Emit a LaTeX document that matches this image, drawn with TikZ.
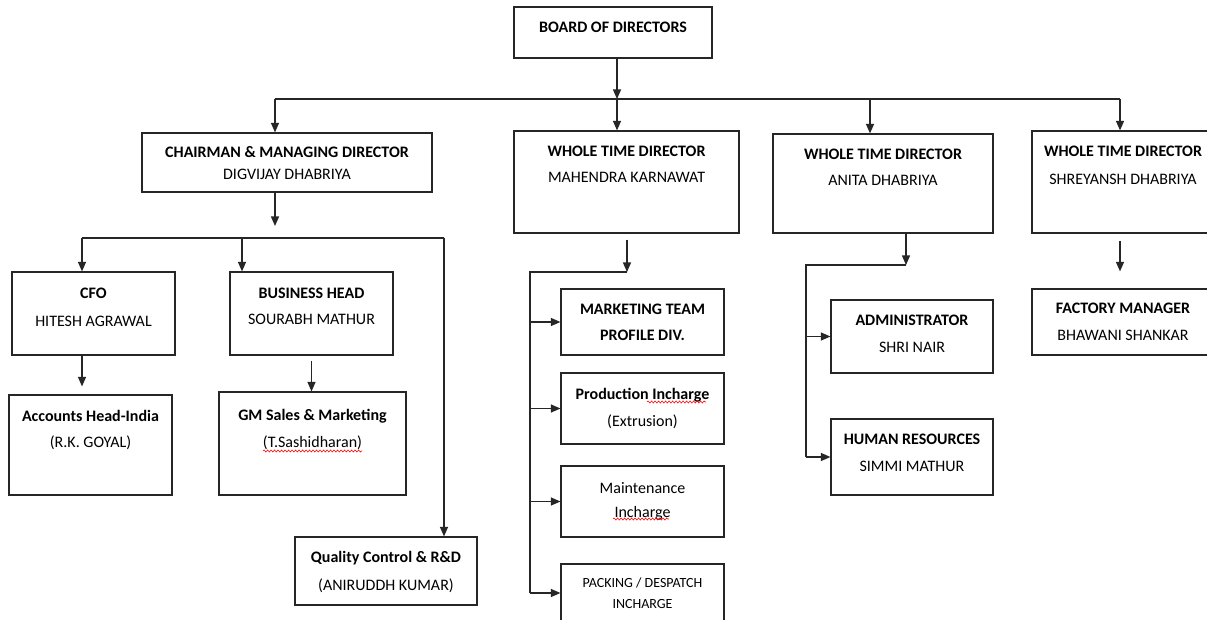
\documentclass[tikz,border=0pt]{standalone}
\usepackage{fontspec}
\setmainfont{Carlito}
\usetikzlibrary{arrows.meta,calc,decorations.pathmorphing}

% box by corners, text placed by baseline of its last line
\newcommand{\orgbox}[8][]{%
  \node[box, minimum width=#5-#3, minimum height=#6-#4] (#2) at ({(#3+#5)/2},{(#4+#6)/2}) {};
  \node[txt, anchor=base, #1] (#2-txt) at ({(#3+#5)/2},#7) {#8};
}

\begin{document}
\begin{tikzpicture}[x=1pt, y=-1pt,
    box/.style={draw=black!85, line width=1.2pt, rectangle, inner sep=0pt},
    txt/.style={align=center, inner sep=0pt, font=\fontsize{16}{26}\selectfont},
    ln/.style={draw=black!85, line width=1.2pt},
    arr/.style={draw=black!85, line width=1.2pt, -{Triangle[width=8pt,length=9.5pt]}},
    spell/.style={draw=red, line width=0.6pt, decorate, decoration={snake, segment length=3.5pt, amplitude=1pt}}]
        \fill[white] (0,0) rectangle (1207,620);
        \useasboundingbox (0,0) rectangle (1207,620);

        \orgbox{board}{514}{7}{712}{58}{33}{\textbf{BOARD OF DIRECTORS}}
        \orgbox[font=\fontsize{16}{22}\selectfont]{cmd}{142}{133}{432}{192}{180}{\textbf{CHAIRMAN \& MANAGING DIRECTOR}\\DIGVIJAY DHABRIYA}
        \orgbox{wtda}{514}{131}{739}{233}{183}{\textbf{WHOLE TIME DIRECTOR}\\MAHENDRA KARNAWAT}
        \orgbox{wtdb}{773}{134}{993}{233}{186}{\textbf{WHOLE TIME DIRECTOR}\\ANITA DHABRIYA}
        \orgbox[font=\fontsize{16}{28}\selectfont]{wtdc}{1032}{131}{1214}{233}{185}{\textbf{WHOLE TIME DIRECTOR}\\SHREYANSH DHABRIYA}
        \orgbox[font=\fontsize{16}{28}\selectfont]{cfo}{12}{272}{175}{355}{326}{\textbf{CFO}\\HITESH AGRAWAL}
        \orgbox{bh}{230}{272}{393}{355}{324}{\textbf{BUSINESS HEAD}\\SOURABH MATHUR}
        \orgbox{acc}{9}{395}{172}{495}{447}{\textbf{Accounts Head-India}\\(R.K. GOYAL)}
        \orgbox[font=\fontsize{16}{27}\selectfont]{gm}{219}{392}{406}{495}{447}{\textbf{GM Sales \& Marketing}\\(T.Sashidharan)}
        \orgbox[font=\fontsize{16}{28}\selectfont]{qc}{295}{537}{477}{605}{590}{\textbf{Quality Control \& R\&D}\\(ANIRUDDH KUMAR)}
        \orgbox{mt}{561}{289}{724}{355}{340}{\textbf{MARKETING TEAM}\\\textbf{PROFILE DIV.}}
        \orgbox[font=\fontsize{16}{27}\selectfont]{pi}{561}{373}{724}{444}{426}{\textbf{Production Incharge}\\(Extrusion)}
        \orgbox[font=\fontsize{16}{24}\selectfont]{mnt}{561}{466}{724}{537}{517}{Maintenance\\Incharge}
        \orgbox[font=\fontsize{14}{21}\selectfont]{pd}{561}{564}{724}{622}{608}{PACKING / DESPATCH\\INCHARGE}
        \orgbox[font=\fontsize{16}{27}\selectfont]{adm}{831}{300}{993}{373}{352}{\textbf{ADMINISTRATOR}\\SHRI NAIR}
        \orgbox[font=\fontsize{16}{27}\selectfont]{hr}{831}{419}{993}{495}{471}{\textbf{HUMAN RESOURCES}\\SIMMI MATHUR}
        \orgbox[font=\fontsize{16}{27}\selectfont]{fm}{1032}{289}{1214}{355}{340}{\textbf{FACTORY MANAGER}\\BHAWANI SHANKAR}

        % spell-check marks
        \draw[spell] (263,451) -- (362,451);
        \draw[spell] (647,402) -- (706,402);
        \draw[spell] (613,519) -- (669,519);

        % board to directors
        \coordinate (bus) at (617,99);
        \coordinate (d1) at (275,99);
        \coordinate (d3) at (870,99);
        \coordinate (d4) at (1120,99);
        \draw[arr] (board.south -| bus) -- (bus);
        \draw[ln] (d1) -- (d4);
        \foreach \d/\n in {d1/cmd,bus/wtda,d3/wtdb,d4/wtdc}{\draw[arr] (\d) -- (\d |- \n.north);}

        % chairman branch
        \coordinate (cmdo) at (275,226);
        \coordinate (sL) at (82,238);
        \coordinate (sM) at (242,238);
        \coordinate (sR) at (444,238);
        \draw[arr] (cmd.south -| cmdo) -- (cmdo);
        \draw[ln] (sL) -- (sR);
        \foreach \d/\n in {sL/cfo,sM/bh,sR/qc}{\draw[arr] (\d) -- (\d |- \n.north);}
        \draw[arr, shorten >=8pt] (sL |- cfo.south) -- (sL |- acc.north);
        \draw[arr, shorten <=5pt] (bh.south) -- (bh.south |- gm.north);

        % whole time director (1)
        \coordinate (ma) at (627,272);
        \coordinate (mb) at (530,272);
        \draw[arr, shorten <=6pt] (wtda.south -| ma) -- (ma);
        \draw[ln] (ma) -- (mb) -- (mb |- pd.west);
        \foreach \n in {mt,pi,mnt,pd}{\draw[arr] (mb |- \n.west) -- (\n.west);}

        % whole time director (2)
        \coordinate (na) at (906,265);
        \coordinate (nb) at (806,265);
        \draw[arr] (wtdb.south -| na) -- (na);
        \draw[ln] (na) -- (nb) -- (nb |- hr.west);
        \foreach \n in {adm,hr}{\draw[arr] (nb |- \n.west) -- (\n.west);}

        % whole time director (3)
        \draw[arr, shorten <=7pt, shorten >=17pt] (wtdc.south -| d4) -- (d4 |- fm.north);
      \end{tikzpicture}
\end{document}
